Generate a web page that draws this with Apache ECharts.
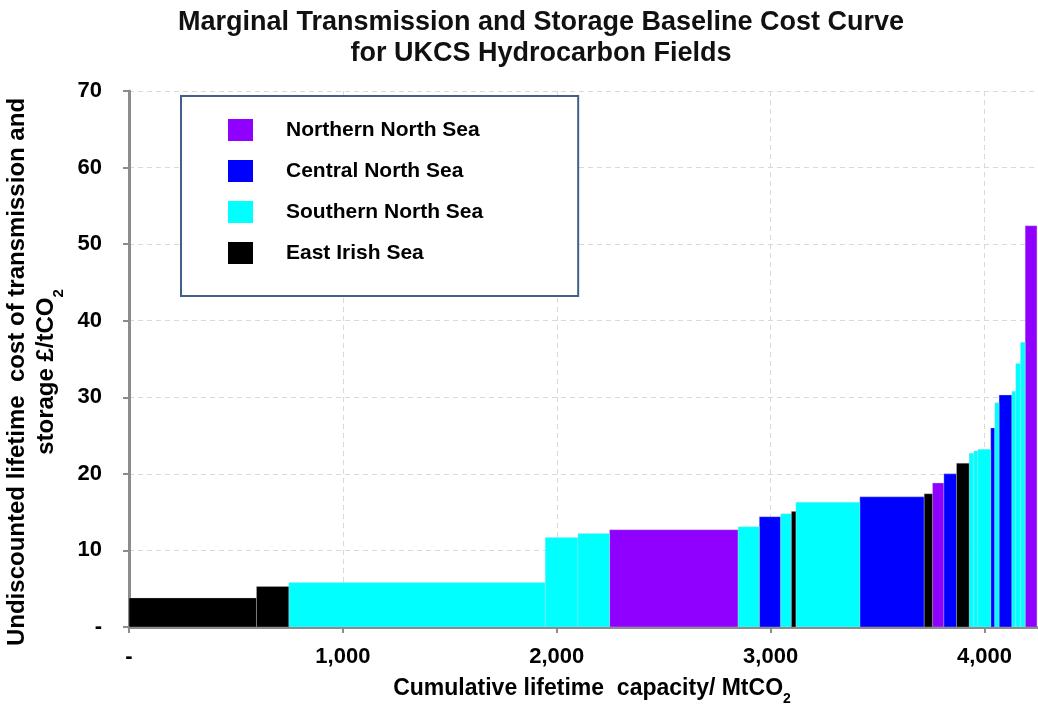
<!DOCTYPE html>
<html>
<head>
<meta charset="utf-8">
<script src="https://cdn.jsdelivr.net/npm/echarts@6/dist/echarts.min.js"></script>
<style>
  html, body { margin: 0; padding: 0; background: #fff; }
  #chart { width: 1038px; height: 707px; }
</style>
</head>
<body>
<div id="chart"></div>
<script>
// Regions and their fill colours
const regionNames = ['Northern North Sea', 'Central North Sea', 'Southern North Sea', 'East Irish Sea'];
const regionColors = ['#9000ff', '#0000ff', '#00ffff', '#000000'];

// Fields in merit order: storage capacity (MtCO2), cost (£/tCO2), region index
const fieldCapacity = [596, 151, 1199, 153, 148, 601, 99, 100, 50, 21, 299, 301, 39, 53, 59, 59, 22, 19, 60, 19, 20, 60, 18, 22, 22, 55];
const fieldCost     = [3.8, 5.3, 5.8, 11.7, 12.2, 12.7, 13.1, 14.4, 14.8, 15.1, 16.3, 17.0, 17.4, 18.8, 20.0, 21.4, 22.7, 23.0, 23.2, 26.0, 29.3, 30.3, 30.8, 34.4, 37.2, 52.4];
const fieldRegion   = [3, 3, 2, 2, 2, 0, 2, 1, 2, 3, 2, 1, 3, 0, 1, 3, 2, 2, 2, 1, 2, 1, 2, 2, 2, 0];

// Axis ticks
const xTickStep = 1000;
const yTicks = [0, 10, 20, 30, 40, 50, 60, 70];

const FONT = '"Liberation Sans", Arial, sans-serif';

// Cumulative start / end for each field
const fieldRows = [];
let cum = 0;
fieldCapacity.forEach((cap, i) => {
  fieldRows.push({ start: cum, end: cum + cap, cost: fieldCost[i], region: fieldRegion[i] });
  cum += cap;
});
const xMax = Math.ceil(cum / 10) * 10;

function renderStep(params, api) {
  const topLeft = api.coord([api.value(0), api.value(2)]);
  const bottomRight = api.coord([api.value(1), 0]);
  return {
    type: 'rect',
    shape: {
      x: topLeft[0],
      y: topLeft[1],
      width: bottomRight[0] - topLeft[0],
      height: bottomRight[1] - topLeft[1]
    },
    style: {
      fill: api.visual('color'),
      stroke: 'rgba(200,215,235,0.55)',
      lineWidth: 0.6
    }
  };
}

const series = regionNames.map((name, r) => ({
  name: name,
  type: 'custom',
  renderItem: renderStep,
  itemStyle: { color: regionColors[r] },
  encode: { x: [0, 1], y: 2 },
  data: fieldRows.filter(f => f.region === r).map(f => [f.start, f.end, f.cost]),
  clip: true
}));

const chart = echarts.init(document.getElementById('chart'), null, { renderer: 'canvas' });

chart.setOption({
  animation: false,
  backgroundColor: '#ffffff',
  textStyle: { fontFamily: FONT },
  title: {
    text: 'Marginal Transmission and Storage Baseline Cost Curve\nfor UKCS Hydrocarbon Fields',
    left: 541,
    top: 7,
    padding: 0,
    textAlign: 'center',
    textStyle: { fontFamily: FONT, fontSize: 27, fontWeight: 'bold', color: '#111', lineHeight: 31 }
  },
  grid: { left: 129, right: 0, top: 91, bottom: 80, containLabel: false, outerBoundsMode: 'none' },
  legend: {
    orient: 'vertical',
    left: 181,
    top: 96,
    data: regionNames,
    selectedMode: false,
    icon: 'rect',
    itemWidth: 25,
    itemHeight: 22,
    itemGap: 19,
    padding: [23, 95, 32, 47],
    backgroundColor: '#ffffff',
    borderColor: '#41618a',
    borderWidth: 2,
    textStyle: {
      fontFamily: FONT, fontSize: 21, fontWeight: 'bold', color: '#000',
      width: 200, padding: [0, 0, 0, 28]
    }
  },
  xAxis: {
    type: 'value',
    min: 0,
    max: xMax,
    interval: xTickStep,
    axisLine: { show: true, lineStyle: { color: '#8c8c8c', width: 3 } },
    axisTick: { show: true, length: 6, lineStyle: { color: '#8c8c8c', width: 2 } },
    splitLine: { show: true, lineStyle: { color: '#d9d9d9', type: [5, 4], width: 1 } },
    axisLabel: {
      margin: 19,
      fontFamily: FONT, fontSize: 22, fontWeight: 'bold', color: '#000',
      showMaxLabel: false,
      formatter: v => (v === 0 ? '-' : (v % xTickStep === 0 ? v.toLocaleString('en-GB') : ''))
    }
  },
  yAxis: {
    type: 'value',
    min: yTicks[0],
    max: yTicks[yTicks.length - 1],
    interval: 10,
    name: '{a|Undiscounted lifetime  cost of transmission and}\n{a|storage £/tCO}{s|2}',
    nameLocation: 'middle',
    nameRotate: 90,
    nameGap: 63,
    nameTextStyle: {
      padding: [0, 26, 0, 0],
      rich: {
        a: { fontFamily: FONT, fontSize: 24, fontWeight: 'bold', color: '#000', lineHeight: 29 },
        s: { fontFamily: FONT, fontSize: 15, fontWeight: 'bold', color: '#000', lineHeight: 29, verticalAlign: 'bottom', padding: [0, 0, -6, 0] }
      }
    },
    axisLine: { show: true, lineStyle: { color: '#8c8c8c', width: 3 } },
    axisTick: { show: true, length: 6, lineStyle: { color: '#8c8c8c', width: 2 } },
    splitLine: { show: true, lineStyle: { color: '#d9d9d9', type: [5, 4], width: 1 } },
    axisLabel: {
      margin: 27,
      fontFamily: FONT, fontSize: 22, fontWeight: 'bold', color: '#000',
      formatter: v => (v === 0 ? '-' : String(v))
    }
  },
  graphic: [{
    type: 'text',
    x: 592,
    y: 689,
    style: {
      text: '{a|Cumulative lifetime  capacity/ MtCO}{s|2}',
      align: 'center',
      verticalAlign: 'middle',
      rich: {
        a: { fontFamily: FONT, fontSize: 23, fontWeight: 'bold', fill: '#000' },
        s: { fontFamily: FONT, fontSize: 14, fontWeight: 'bold', fill: '#000', verticalAlign: 'bottom', padding: [0, 0, -6, 0] }
      }
    }
  }],
  series: series
});
</script>
</body>
</html>
